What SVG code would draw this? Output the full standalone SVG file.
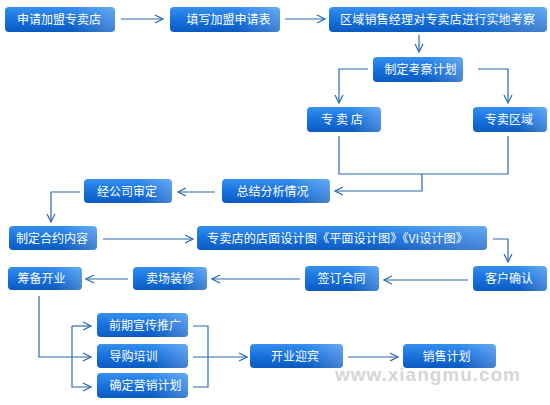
<svg xmlns="http://www.w3.org/2000/svg" width="550" height="405" viewBox="0 0 550 405">
<defs>
<linearGradient id="g" x1="0" y1="0" x2="0" y2="1">
<stop offset="0" stop-color="#3590ee"/>
<stop offset="0.5" stop-color="#1872de"/>
<stop offset="1" stop-color="#0a5ac0"/>
</linearGradient>
<linearGradient id="sh" x1="0" y1="0" x2="1" y2="0">
<stop offset="0.6" stop-color="#ffffff" stop-opacity="0"/>
<stop offset="1" stop-color="#ffffff" stop-opacity="0.25"/>
</linearGradient>
<marker id="a" viewBox="0 0 10 10" refX="9" refY="5" markerWidth="10" markerHeight="10" markerUnits="userSpaceOnUse" orient="auto">
<path d="M1,1 L9,5 L1,9" fill="none" stroke="#2a6bb0" stroke-width="1.2"/>
</marker>
</defs>
<style>
.n rect.b{fill:url(#g);}
.n rect.s{fill:url(#sh);}
.n text{font-family:"Noto Sans CJK SC","Liberation Sans",sans-serif;font-size:12px;fill:#ffffff;text-anchor:middle;}
#conn path{fill:none;stroke:#2a6bb0;stroke-width:1.2;}
#conn path.ar{marker-end:url(#a);}
.wm{font-family:"Liberation Sans",Arial,sans-serif;font-weight:bold;font-size:19px;fill:#c8c8c8;fill-opacity:0.75;}
</style>
<rect width="550" height="405" fill="#ffffff"/>
<g id="conn">
<path class="ar" d="M121,19 H163"/>
<path class="ar" d="M285,19 H325"/>
<path class="ar" d="M419,35 V52"/>
<path class="ar" d="M368,69 H339 V103"/>
<path class="ar" d="M478,69 H508 V103"/>
<path d="M339,136 V174 H508 V136"/>
<path class="ar" d="M422,174 V191 H335"/>
<path class="ar" d="M215,192 H178"/>
<path class="ar" d="M80,192 H51 V222"/>
<path class="ar" d="M103,239 H193"/>
<path class="ar" d="M493,239 H508 V262"/>
<path class="ar" d="M468,280 H384"/>
<path class="ar" d="M300,279 H212"/>
<path class="ar" d="M128,279 H86"/>
<path class="ar" d="M39,296 V357 H91"/>
<path class="ar" d="M72,326 H91"/>
<path class="ar" d="M72,326 V387 H91"/>
<path d="M193,326 H208 V387 H193"/>
<path class="ar" d="M193,357 H247"/>
<path class="ar" d="M348,357 H398"/>
</g>
<g id="n1" class="n"><rect class="b" x="5" y="7" width="110" height="25" rx="4"/><rect class="s" x="5" y="7" width="110" height="25" rx="4"/><text x="59" y="23.5">申请加盟专卖店</text></g>
<g id="n2" class="n"><rect class="b" x="170" y="7" width="110" height="25" rx="4"/><rect class="s" x="170" y="7" width="110" height="25" rx="4"/><text x="228.5" y="23.5">填写加盟申请表</text></g>
<g id="n3" class="n"><rect class="b" x="329" y="7" width="218" height="25" rx="4"/><rect class="s" x="329" y="7" width="218" height="25" rx="4"/><text x="437.5" y="23.5" textLength="195">区域销售经理对专卖店进行实地考察</text></g>
<g id="n4" class="n"><rect class="b" x="373" y="57" width="90" height="25" rx="4"/><rect class="s" x="373" y="57" width="90" height="25" rx="4"/><text x="420.5" y="73.5">制定考察计划</text></g>
<g id="n5" class="n"><rect class="b" x="307" y="107" width="74" height="25" rx="4"/><rect class="s" x="307" y="107" width="74" height="25" rx="4"/><text x="342" y="123.5">专 卖 店</text></g>
<g id="n6" class="n"><rect class="b" x="473" y="107" width="74" height="25" rx="4"/><rect class="s" x="473" y="107" width="74" height="25" rx="4"/><text x="509" y="123.5">专卖区域</text></g>
<g id="n7" class="n"><rect class="b" x="222" y="179" width="108" height="24" rx="4"/><rect class="s" x="222" y="179" width="108" height="24" rx="4"/><text x="272.5" y="195.5">总结分析情况</text></g>
<g id="n8" class="n"><rect class="b" x="84" y="179" width="88" height="24" rx="4"/><rect class="s" x="84" y="179" width="88" height="24" rx="4"/><text x="127" y="195.5">经公司审定</text></g>
<g id="n9" class="n"><rect class="b" x="9" y="226" width="88" height="24" rx="4"/><rect class="s" x="9" y="226" width="88" height="24" rx="4"/><text x="52" y="242.5">制定合约内容</text></g>
<g id="n10" class="n"><rect class="b" x="197" y="226" width="290" height="24" rx="4"/><rect class="s" x="197" y="226" width="290" height="24" rx="4"/><text x="337.5" y="242.5" textLength="261" lengthAdjust="spacingAndGlyphs">专卖店的店面设计图《平面设计图》《VI设计图》</text></g>
<g id="n11" class="n"><rect class="b" x="473" y="266" width="74" height="25" rx="4"/><rect class="s" x="473" y="266" width="74" height="25" rx="4"/><text x="509" y="282.5">客户确认</text></g>
<g id="n12" class="n"><rect class="b" x="305" y="266" width="74" height="25" rx="4"/><rect class="s" x="305" y="266" width="74" height="25" rx="4"/><text x="341.5" y="282.5">签订合同</text></g>
<g id="n13" class="n"><rect class="b" x="133" y="267" width="74" height="23" rx="4"/><rect class="s" x="133" y="267" width="74" height="23" rx="4"/><text x="170" y="282.5">卖场装修</text></g>
<g id="n14" class="n"><rect class="b" x="8" y="267" width="74" height="23" rx="4"/><rect class="s" x="8" y="267" width="74" height="23" rx="4"/><text x="41.5" y="282.5">筹备开业</text></g>
<g id="n15" class="n"><rect class="b" x="97" y="313" width="91" height="24" rx="4"/><rect class="s" x="97" y="313" width="91" height="24" rx="4"/><text x="145" y="329.5">前期宣传推广</text></g>
<g id="n16" class="n"><rect class="b" x="97" y="344" width="91" height="24" rx="4"/><rect class="s" x="97" y="344" width="91" height="24" rx="4"/><text x="133.5" y="360.5">导购培训</text></g>
<g id="n17" class="n"><rect class="b" x="97" y="373" width="91" height="25" rx="4"/><rect class="s" x="97" y="373" width="91" height="25" rx="4"/><text x="145.5" y="390">确定营销计划</text></g>
<g id="n18" class="n"><rect class="b" x="250" y="344" width="93" height="24" rx="4"/><rect class="s" x="250" y="344" width="93" height="24" rx="4"/><text x="295" y="360.5">开业迎宾</text></g>
<g id="n19" class="n"><rect class="b" x="403" y="344" width="93" height="24" rx="4"/><rect class="s" x="403" y="344" width="93" height="24" rx="4"/><text x="446.5" y="360.5">销售计划</text></g>
<text class="wm" x="335" y="381" textLength="185">www.xiangmu.com</text>
</svg>
